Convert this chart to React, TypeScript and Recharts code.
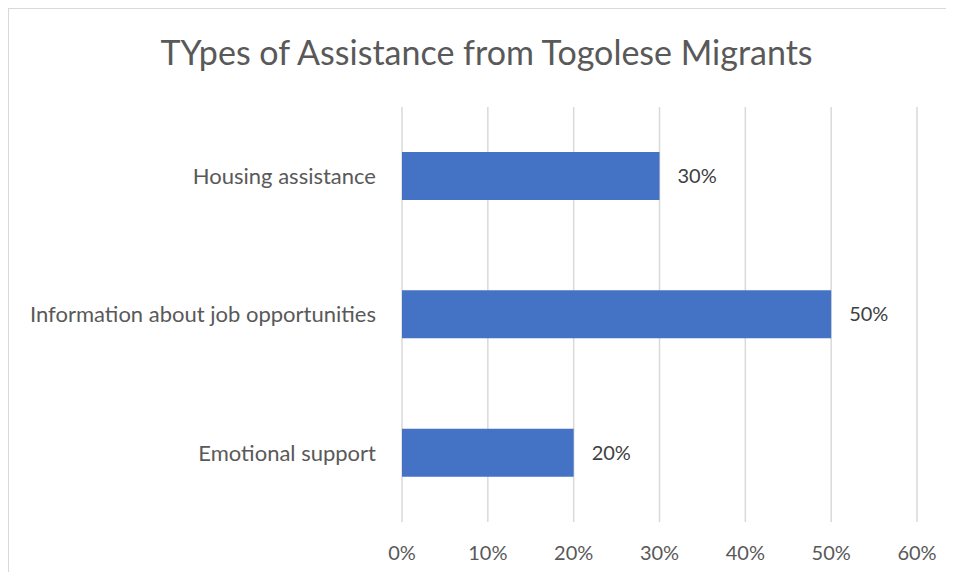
import React from "react";
import { BarChart, Bar, XAxis, YAxis, CartesianGrid, LabelList } from "recharts";

const categories = ["Housing assistance", "Information about job opportunities", "Emotional support"];
const values = [30, 50, 20];
const xTicks = [0, 10, 20, 30, 40, 50, 60];
const title = "TYpes of Assistance from Togolese Migrants";

const data = categories.map((name, i) => ({ name, value: values[i] }));

const FONT = "Lato, 'Open Sans', sans-serif";

export default function App() {
  return (
    <div
      style={{
        position: "relative",
        width: 938,
        height: 564,
        overflow: "hidden",
        borderLeft: "1px solid #d9d9d9",
        borderTop: "1px solid #d9d9d9",
        boxSizing: "border-box",
        background: "#fff",
        fontFamily: FONT,
      }}
    >
      <div
        style={{
          position: "absolute",
          top: 23,
          left: 0,
          width: 955,
          textAlign: "center",
          fontSize: 34,
          lineHeight: "40px",
          color: "#595959",
          fontFamily: FONT,
          whiteSpace: "nowrap",
        }}
      >
        {title}
      </div>
      <BarChart
        width={952}
        height={578}
        data={data}
        layout="vertical"
        margin={{ top: 98, right: 44, bottom: 15, left: 0 }}
      >
        <CartesianGrid horizontal={false} stroke="#d9d9d9" strokeWidth={1.5} />
        <XAxis
          type="number"
          domain={[0, 60]}
          ticks={xTicks}
          tickFormatter={(v: number) => `${v}%`}
          axisLine={false}
          tickLine={false}
          tickSize={0}
          tickMargin={24}
          height={50}
          interval={0}
          tick={{ fill: "#595959", fontSize: 20, fontFamily: FONT }}
        />
        <YAxis
          type="category"
          dataKey="name"
          width={393}
          axisLine={false}
          tickLine={false}
          tickSize={0}
          tickMargin={26}
          interval={0}
          tick={{ fill: "#595959", fontSize: 22, fontFamily: FONT }}
        />
        <Bar dataKey="value" fill="#4472c4" barSize={48} isAnimationActive={false}>
          <LabelList
            dataKey="value"
            position="right"
            offset={18}
            formatter={(v: number) => `${v}%`}
            style={{ fill: "#404040", fontSize: 20, fontFamily: FONT }}
          />
        </Bar>
      </BarChart>
    </div>
  );
}
